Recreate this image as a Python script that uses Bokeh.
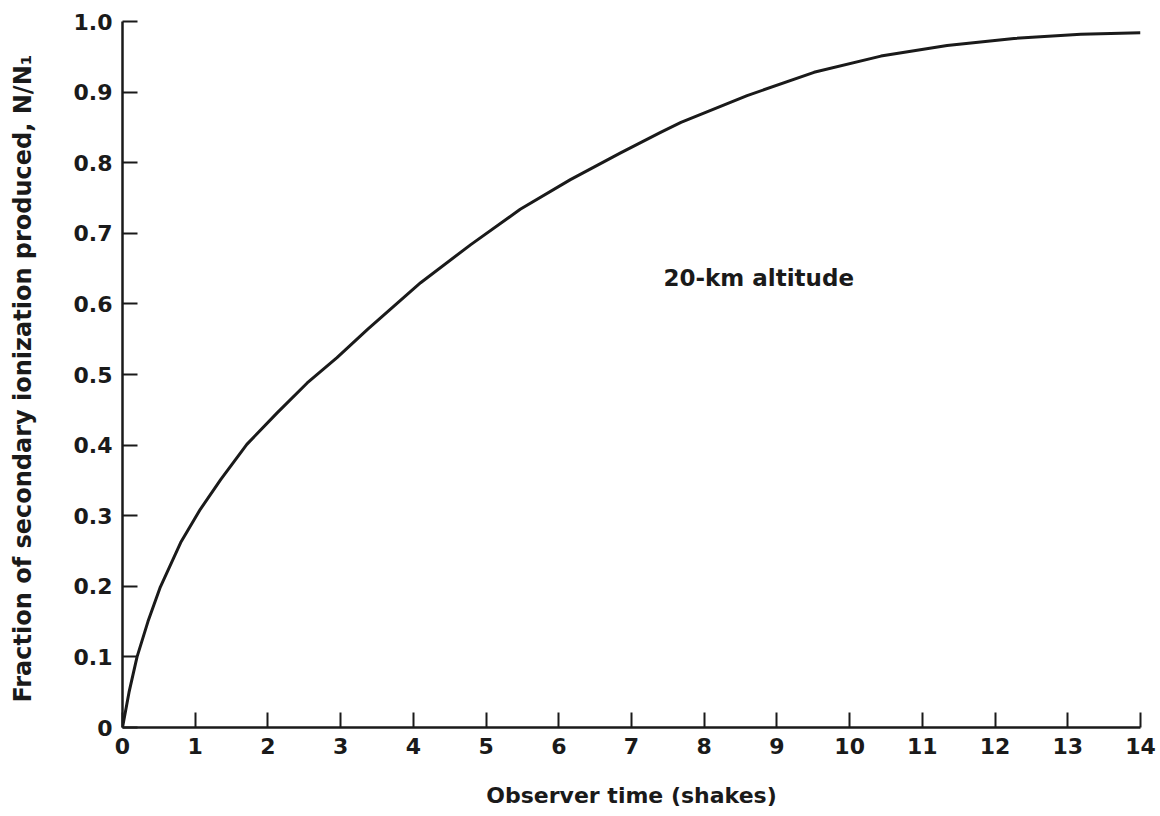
from bokeh.plotting import figure
from bokeh.models import Range1d, FixedTicker, CustomJSTickFormatter, Label
from bokeh.embed import file_html
from bokeh.resources import INLINE

# Data
time_shakes = [0, 0.09, 0.2, 0.35, 0.52, 0.8, 1.07, 1.35, 1.71, 2.13, 2.54, 2.95, 3.37,
               4.1, 4.79, 5.47, 6.16, 6.85, 7.4, 7.68, 8.59, 9.51, 10.43, 11.34,
               12.26, 13.18, 14.0]
fraction = [0.0, 0.05, 0.10, 0.15, 0.199, 0.262, 0.309, 0.351, 0.401, 0.446, 0.488, 0.524, 0.564,
            0.630, 0.684, 0.734, 0.776, 0.814, 0.843, 0.857, 0.895, 0.928, 0.951, 0.966,
            0.976, 0.982, 0.984]

x_ticks = [0, 1, 2, 3, 4, 5, 6, 7, 8, 9, 10, 11, 12, 13, 14]
y_ticks = [0, 0.1, 0.2, 0.3, 0.4, 0.5, 0.6, 0.7, 0.8, 0.9, 1.0]

annotation_text = "20-km altitude"
annotation_x = 7.44
annotation_y = 0.637

FONT = "DejaVu Sans"
INK = "#1a1a1a"

p = figure(width=1156, height=812, output_backend="svg", toolbar_location=None,
           x_range=Range1d(0, 14), y_range=Range1d(0, 1.0),
           min_border_left=122, min_border_right=16, min_border_top=21, min_border_bottom=85)
p.outline_line_color = None
p.xgrid.visible = False
p.ygrid.visible = False
p.background_fill_color = "white"
p.border_fill_color = "white"

p.line(time_shakes, fraction, line_color=INK, line_width=3, line_join="round")

for ax in (p.xaxis[0], p.yaxis[0]):
    ax.axis_line_color = INK
    ax.axis_line_width = 2.5
    ax.major_tick_line_color = INK
    ax.major_tick_line_width = 2
    ax.major_tick_in = 15
    ax.major_tick_out = 0
    ax.minor_tick_line_color = None
    ax.major_label_text_font = FONT
    ax.major_label_text_font_style = "bold"
    ax.major_label_text_font_size = "22px"
    ax.major_label_text_color = INK
    ax.axis_label_text_font = FONT
    ax.axis_label_text_font_style = "bold"
    ax.axis_label_text_color = INK

p.xaxis[0].axis_label_text_font_size = "22px"
p.yaxis[0].axis_label_text_font_size = "24px"
p.xaxis[0].ticker = FixedTicker(ticks=x_ticks)
p.yaxis[0].ticker = FixedTicker(ticks=y_ticks)
p.xaxis[0].formatter = CustomJSTickFormatter(code="return tick.toFixed(0);")
p.yaxis[0].formatter = CustomJSTickFormatter(code="return tick == 0 ? '0' : tick.toFixed(1);")
p.xaxis[0].major_label_standoff = 10
p.yaxis[0].major_label_standoff = 10
p.xaxis[0].axis_label = "Observer time (shakes)"
p.yaxis[0].axis_label = "Fraction of secondary ionization produced,  N/N\u2081"
p.xaxis[0].axis_label_standoff = 26
p.yaxis[0].axis_label_standoff = 34

p.add_layout(Label(x=annotation_x, y=annotation_y, text=annotation_text,
                   text_font=FONT, text_font_style="bold", text_font_size="23px",
                   text_color=INK, text_baseline="middle", text_align="left"))

open("out.html", "w").write(file_html(p, INLINE))
